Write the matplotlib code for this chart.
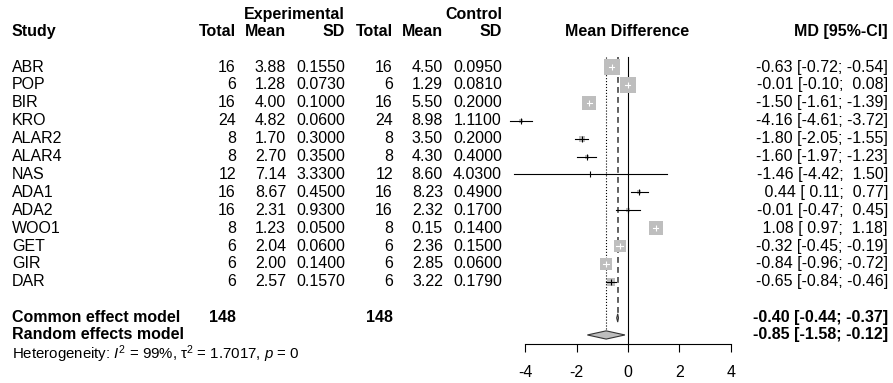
import numpy as np
import matplotlib
matplotlib.use("Agg")
import matplotlib.pyplot as plt
from matplotlib.transforms import blended_transform_factory
from matplotlib.patches import Polygon

plt.rcParams['font.family'] = ['Liberation Sans', 'DejaVu Sans']
plt.rcParams['axes.unicode_minus'] = False
plt.rcParams['mathtext.fontset'] = 'custom'
plt.rcParams['mathtext.rm'] = 'Liberation Sans'
plt.rcParams['mathtext.it'] = 'Liberation Sans:italic'

# data
studies = ['ABR', 'POP', 'BIR', 'KRO', 'ALAR2', 'ALAR4', 'NAS', 'ADA1', 'ADA2',
           'WOO1', 'GET', 'GIR', 'DAR']
n_e = [16, 6, 16, 24, 8, 8, 12, 16, 16, 8, 6, 6, 6]
mean_e = [3.88, 1.28, 4.00, 4.82, 1.70, 2.70, 7.14, 8.67, 2.31, 1.23, 2.04, 2.00, 2.57]
sd_e = [0.1550, 0.0730, 0.1000, 0.0600, 0.3000, 0.3500, 3.3300, 0.4500, 0.9300,
        0.0500, 0.0600, 0.1400, 0.1570]
n_c = [16, 6, 16, 24, 8, 8, 12, 16, 16, 8, 6, 6, 6]
mean_c = [4.50, 1.29, 5.50, 8.98, 3.50, 4.30, 8.60, 8.23, 2.32, 0.15, 2.36, 2.85, 3.22]
sd_c = [0.0950, 0.0810, 0.2000, 1.1100, 0.2000, 0.4000, 4.0300, 0.4900, 0.1700,
        0.1400, 0.1500, 0.0600, 0.1790]
md = [-0.63, -0.01, -1.50, -4.16, -1.80, -1.60, -1.46, 0.44, -0.01, 1.08, -0.32, -0.84, -0.65]
md_lo = [-0.72, -0.10, -1.61, -4.61, -2.05, -1.97, -4.42, 0.11, -0.47, 0.97, -0.45, -0.96, -0.84]
md_hi = [-0.54, 0.08, -1.39, -3.72, -1.55, -1.23, 1.50, 0.77, 0.45, 1.18, -0.19, -0.72, -0.46]

common = (-0.40, -0.44, -0.37)
random_ = (-0.85, -1.58, -0.12)
total_e = 148
total_c = 148
het_text = r"Heterogeneity: $I^2$ = 99%, $\mathrm{\tau}^2$ = 1.7017, $p$ = 0"
xticks = [-4, -2, 0, 2, 4]

W, H = 893, 383
fig = plt.figure(figsize=(W / 100, H / 100), dpi=100)

# forest panel: x in MD units, y in row units (row 0 at pixel 67, 17.9 px per row)
px0, ppu = 628.0, 25.7
row0, rowh = 67.0, 17.9
ax = fig.add_axes([(px0 - 4 * ppu) / W, 0, 8 * ppu / W, 1])
ax.set_xlim(-4, 4)
ax.set_ylim((H - row0) / rowh, -row0 / rowh)
ax.patch.set_visible(False)

y_common, y_random, y_het = 14.02, 14.97, 16.03
y_axis = 15.47
y_top = -0.56

for s in ['left', 'right', 'top']:
    ax.spines[s].set_visible(False)
ax.spines['bottom'].set_position(('data', y_axis))
ax.spines['bottom'].set_bounds(-4, 4)
ax.spines['bottom'].set_linewidth(0.8)
ax.set_xticks(xticks)
ax.set_xticklabels([str(t) for t in xticks])
ax.set_yticks([])
ax.tick_params(axis='x', direction='out', length=5.5, width=0.8, pad=10, labelsize=11.5)

# reference lines
ax.plot([0, 0], [y_top, y_axis], color='black', lw=0.8)
ax.plot([random_[0]] * 2, [y_top, y_random - 0.22], color='black', lw=0.8, ls=':')
ax.plot([common[0]] * 2, [y_top, y_common - 0.2], color='#444444', lw=1.2, ls=(0, (3.5, 2.5)))

# study squares and CIs
for i in range(len(studies)):
    se = (md_hi[i] - md_lo[i]) / 3.92
    side_px = 0.735 / se
    ax.scatter([md[i]], [i], marker='s', s=(side_px * 0.72) ** 2, color='#BEBEBE',
               linewidths=0, zorder=2, clip_on=False)
    ci_px = (md_hi[i] - md_lo[i]) * ppu
    col = 'white' if ci_px < side_px else 'black'
    ax.plot([md_lo[i], md_hi[i]], [i, i], color=col, lw=0.8, zorder=3, clip_on=False)
    ax.plot([md[i]], [i], marker='|', markersize=3.8, mew=0.8, color=col, zorder=3,
            clip_on=False)

# summary diamonds
for est, lo, hi, y in [(common[0], common[1], common[2], y_common),
                       (random_[0], random_[1], random_[2], y_random)]:
    ax.add_patch(Polygon([(lo, y), (est, y - 0.23), (hi, y), (est, y + 0.23)],
                         closed=True, facecolor='#BEBEBE', edgecolor='#333333', lw=0.8,
                         zorder=4))

# text columns
tr = blended_transform_factory(fig.transFigure, ax.transData)
fs = 11.5


def txt(xpx, y, s, ha='right', bold=False, size=fs):
    fig.text(xpx / W, y, s, transform=tr, ha=ha, va='center', fontsize=size,
             fontweight='bold' if bold else 'normal')


y_h1, y_h2 = -2.96, -1.96
txt(345, y_h1, 'Experimental', bold=True)
txt(502, y_h1, 'Control', bold=True)
txt(12, y_h2, 'Study', ha='left', bold=True)
for xpx, lab in [(236, 'Total'), (286, 'Mean'), (345, 'SD'),
                 (393, 'Total'), (443, 'Mean'), (502, 'SD')]:
    txt(xpx, y_h2, lab, bold=True)
txt(627, y_h2, 'Mean Difference', ha='center', bold=True)
txt(888, y_h2, 'MD [95%-CI]', bold=True)


def fmt_ci(e, lo, hi):
    return f"{e:5.2f} [{lo:5.2f}; {hi:5.2f}]"


for i, name in enumerate(studies):
    txt(12, i, name, ha='left')
    txt(236, i, f"{n_e[i]}")
    txt(286, i, f"{mean_e[i]:.2f}")
    txt(345, i, f"{sd_e[i]:.4f}")
    txt(393, i, f"{n_c[i]}")
    txt(443, i, f"{mean_c[i]:.2f}")
    txt(502, i, f"{sd_c[i]:.4f}")
    txt(888, i, fmt_ci(md[i], md_lo[i], md_hi[i]))

txt(12, y_common, 'Common effect model', ha='left', bold=True)
txt(236, y_common, f"{total_e}", bold=True)
txt(393, y_common, f"{total_c}", bold=True)
txt(888, y_common, fmt_ci(*common), bold=True)
txt(12, y_random, 'Random effects model', ha='left', bold=True)
txt(888, y_random, fmt_ci(*random_), bold=True)
txt(12, y_het, het_text, ha='left', size=10.8)

fig.savefig('out.png', dpi=100)
